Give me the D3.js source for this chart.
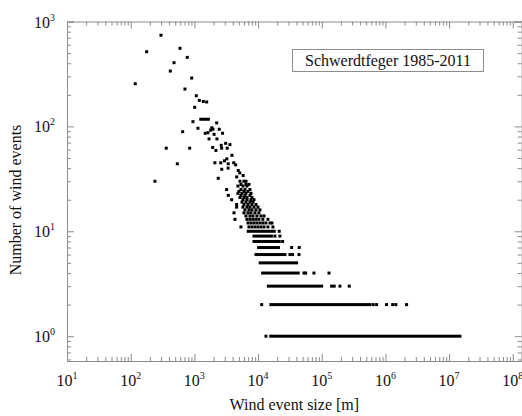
<!DOCTYPE html>
<html><head><meta charset="utf-8">
<script src="https://cdn.jsdelivr.net/npm/d3@7"></script>
<style>body{margin:0;background:#fff}svg{display:block}text{font-family:"Liberation Serif","Times New Roman",serif;fill:#111}</style>
</head><body><svg id="c" width="522" height="416"></svg>
<script>
// ---- data (event size in m, number of events) ----
const eventSize = [118,178,299,419,479,594,711,774,908,1011,1072,1195,1380,1560,240,362,540,655,844,950,1138,1260,1380,1510,1660,2240,1800,1880,1960,2460,1480,1630,2040,2770,1700,2260,1940,2180,2640,3100,3620,2680,3280,3890,2100,2600,2970,3230,3400,4150,4450,2690,3390,4880,4620,5160,5840,2370,
 5200,6000,6460, 5400,6460,7200, 4830,5800,6700, 3210,5390,6230,7460, 5010,6010,6940, 4830,5590,6460,7740, 3410,5390,6230,7460, 5200,6010,6700,8020, 3850,5800,6700,7740,8630, 5590,6460,7460,8320, 4610,6010,6940,8020,9270, 4610,5800,6700,7460,8630,9960, 6230,7200,8020,9270,10700, 4190,6010,6940,7740,8940,10300, 6460,7460,8320,9610,11100,12400, 4340,6700,7460,8320,9270,10300,11900,14300, 6940,7740,8630,9610,10700,11900,13300,15400,16500, 5390,7200,8020,8940,9960,11100,12400,14300,17100,
 21500, 18400,22100, 24300, 33700,44300, 31700,34900,43900, 10800, 11800,52600,55900,75500,130000, 143000,157000,193000,270000, 11400,643000,727000,1040000,1300000,1460000,2150000, 13300,15800];
const eventCount = [255,515,740,337,405,555,227,455,289,152,196,177,173,171,30,62,44,89,62,111,96,117,117,117,117,108,92,97,94,94,86,87,84,86,76,76,63,59,66,69,67,62,62,53,45,45,47,49,44,45,43,39,40,38,33,36,34,32,
 30,30,30, 28,28,28, 27,27,27, 25,25,25,25, 24,24,24, 23,23,23,23, 22,22,22,22, 21,21,21,21, 20,20,20,20,20, 19,19,19,19, 18,18,18,18,18, 17,17,17,17,17,17, 16,16,16,16,16, 15,15,15,15,15,15, 14,14,14,14,14,14, 13,13,13,13,13,13,13,13, 12,12,12,12,12,12,12,12,12, 11,11,11,11,11,11,11,11,11,
 10, 9,9, 8, 7,7, 6,6,6, 5, 4,4,4,4,4, 3,3,3,3, 2,2,2,2,2,2,2, 1,1];
// dense runs of overlapping points at low counts
const runCount = [1,2,3,4,5,6,7,8,9,10];
const runStart = [17300,15900,14500,13000,11900,9270,10200,8630,8630,7000];
const runEnd   = [14800000,571000,99600,42700,40300,26400,20900,21500,16200,18000];
const xTickExp = [1,2,3,4,5,6,7,8];
const yTickExp = [0,1,2,3];
const xTitle = "Wind event size [m]";
const yTitle = "Number of wind events";
const legendText = "Schwerdtfeger 1985-2011";

// ---- chart ----
const svg = d3.select("#c");
const L=67, R=521.7, T=21.5, B=361;
const x = d3.scaleLog().domain([10, 1.38e8]).range([L, R]);
const y = d3.scaleLog().domain([0.58, 1000]).range([B, T]);
const axisCol = "#8c8c8c";

function ticksFor(exps, dom){
  const major=[], minor=[];
  for(let e=exps[0]-1;e<=exps[exps.length-1];e++){
    for(let m=1;m<10;m++){ const v=m*Math.pow(10,e); if(v<dom[0]||v>dom[1]) continue; if(m===1) major.push(v); else minor.push(v);}
  }
  return {major, minor};
}
const xt = ticksFor(xTickExp, x.domain());
const yt = ticksFor(yTickExp, y.domain());
const g = svg.append("g");
function drawAxis(axisFn, scale, transform){
  const tk = scale===x ? xt : yt;
  const gM = g.append("g").attr("transform", transform)
    .call(axisFn(scale).tickValues(tk.major).tickSize(-7).tickFormat(""));
  const gm = g.append("g").attr("transform", transform)
    .call(axisFn(scale).tickValues(tk.minor).tickSize(-4).tickFormat(""));
  [gM,gm].forEach(a=>{a.selectAll("path,line").attr("stroke",axisCol).attr("stroke-width",1);});
  gm.select(".domain").remove();
}
drawAxis(d3.axisBottom, x, `translate(0,${B})`);
drawAxis(d3.axisTop, x, `translate(0,${T})`);
drawAxis(d3.axisLeft, y, `translate(${L},0)`);
drawAxis(d3.axisRight, y, `translate(${R},0)`);

// tick labels
xTickExp.forEach(e=>{
  const t = g.append("text").attr("x", x(Math.pow(10,e))).attr("y", B+25).attr("text-anchor","middle").style("font-size","16px");
  t.append("tspan").text("10");
  t.append("tspan").attr("dy",-7).style("font-size","10px").text(e);
});
yTickExp.forEach(e=>{
  const t = g.append("text").attr("x", L-12).attr("y", y(Math.pow(10,e))+6).attr("text-anchor","end").style("font-size","16px");
  t.append("tspan").text("10");
  t.append("tspan").attr("dy",-7).style("font-size","10px").text(e);
});
g.append("text").attr("x",(L+R)/2).attr("y",410).attr("text-anchor","middle").style("font-size","16px").text(xTitle);
g.append("text").attr("transform",`translate(21,200) rotate(-90)`).attr("text-anchor","middle").style("font-size","16px").text(yTitle);

// legend
g.append("rect").attr("x",292.5).attr("y",49.5).attr("width",191).attr("height",22).attr("fill","none").attr("stroke","#8c8c8c");
g.append("text").attr("x",388).attr("y",66).attr("text-anchor","middle").style("font-size","16px").text(legendText);

// runs
g.append("g").selectAll("rect").data(runCount).join("rect")
  .attr("x",(d,i)=>x(runStart[i])-1.5).attr("width",(d,i)=>x(runEnd[i])-x(runStart[i])+3)
  .attr("y",d=>y(d)-1.5).attr("height",3).attr("fill","#000");
// points
g.append("g").selectAll("rect").data(eventSize).join("rect")
  .attr("x",d=>x(d)-1.5).attr("y",(d,i)=>y(eventCount[i])-1.5).attr("width",3).attr("height",3).attr("fill","#000");
</script></body></html>
